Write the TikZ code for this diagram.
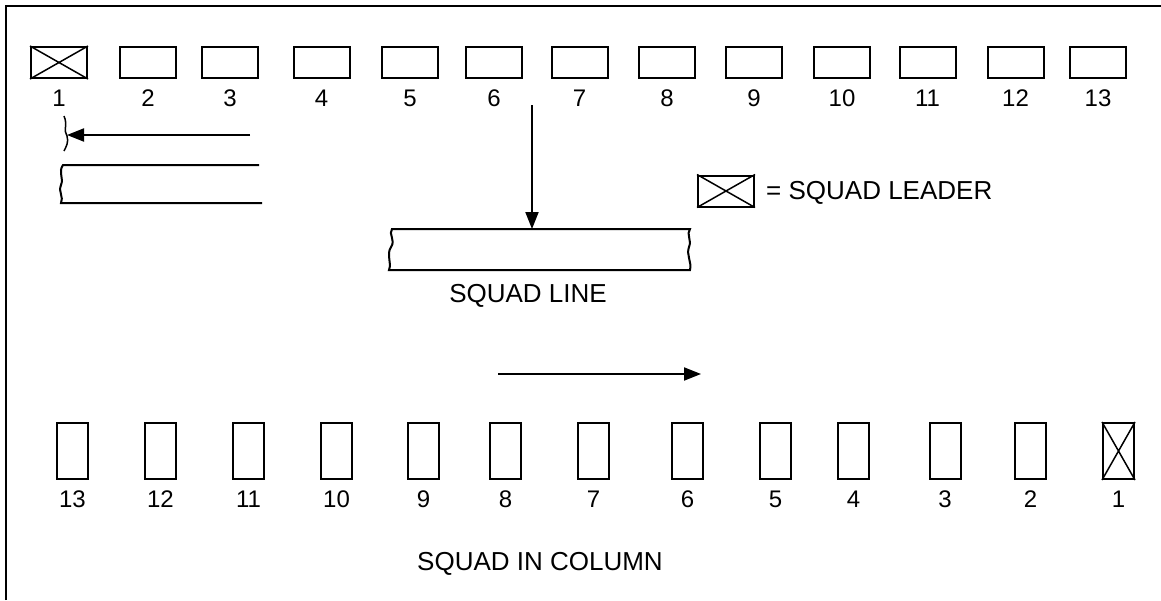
\documentclass[tikz,border=0pt]{standalone}
\usepackage{fontspec}
\setmainfont{Liberation Sans}
\usetikzlibrary{arrows.meta}
\tikzset{
  ln/.style={line width=2pt, line cap=butt},
  hbox/.style={draw, line width=2pt, minimum width=56pt, minimum height=31pt, inner sep=0pt},
  vbox/.style={draw, line width=2pt, minimum width=31pt, minimum height=56pt, inner sep=0pt},
  num/.style={anchor=base, inner sep=0pt, font=\fontsize{24}{28}\selectfont},
  title/.style={anchor=base, inner sep=0pt, font=\fontsize{26}{30}\selectfont},
  arr/.style={ln, -{Triangle[length=17pt,width=13pt]}},
}
\begin{document}
\begin{tikzpicture}[x=1pt,y=-1pt]
\useasboundingbox (0,0) rectangle (1161,600);
% frame (only top and left edges visible)
\draw[line width=2.2pt] (6,600) -- (6,6) -- (1161,6);

% squad line (top row)
\foreach \i/\x in {1/59,2/148,3/230,4/321.5,5/410,6/494,7/579.5,8/667,9/754,10/842,11/927.5,12/1015.5,13/1098}{
  \node[hbox] (t\i) at (\x,62.5) {};
  \node[num] (tl\i) at (\x,106) {\i};
}
\draw[line width=1.5pt] (t1.north west) -- (t1.south east) (t1.south west) -- (t1.north east);

% squad in column (bottom row)
\foreach \i/\x in {13/72.5,12/160.5,11/248.5,10/336.5,9/423.5,8/505.5,7/593.5,6/687.5,5/775.5,4/853.5,3/945,2/1030.5,1/1118.5}{
  \node[vbox] (b\i) at (\x,451) {};
  \node[num] (bl\i) at (\x,507) {\i};
}
\draw[line width=1.5pt] (b1.north west) -- (b1.south east) (b1.south west) -- (b1.north east);

% legend
\node[hbox] (leg) at (726,191) {};
\draw[line width=1.5pt] (leg.north west) -- (leg.south east) (leg.south west) -- (leg.north east);
\node[title, anchor=base west] (legt) at (766,199) {= SQUAD LEADER};

% top-left: dressing arrow and partial band
\coordinate (la) at (250,135);
\coordinate (lb) at (67,135);
\draw[line width=1.5pt] (64,116) .. controls (68,125) and (63,130) .. (67,136) .. controls (69,142) and (66,147) .. (64,151);
\draw[arr] (la) -- (lb);
\draw[ln] (259,165) -- (63,165) .. controls (58,172) and (64,178) .. (61,185) .. controls (58,192) and (64,197) .. (61,203) -- (262,203);

% centre: squad line band with arrow
\draw[ln] (392,229) .. controls (388,234) and (396,240) .. (391,247) .. controls (386,255) and (392,262) .. (389,270)
  -- (690,270) .. controls (692,262) and (686,255) .. (689,247) .. controls (692,240) and (686,234) .. (690,229) -- cycle;
\coordinate (da) at (532,105);
\coordinate (db) at (532,229);
\draw[arr] (da) -- (db);
\node[title] (sl) at (528,302) {SQUAD LINE};

% lower arrow
\coordinate (ra) at (498,374);
\coordinate (rb) at (701,374);
\draw[arr] (ra) -- (rb);

\node[title] (sc) at (540,570) {SQUAD IN COLUMN};
\end{tikzpicture}
\end{document}
